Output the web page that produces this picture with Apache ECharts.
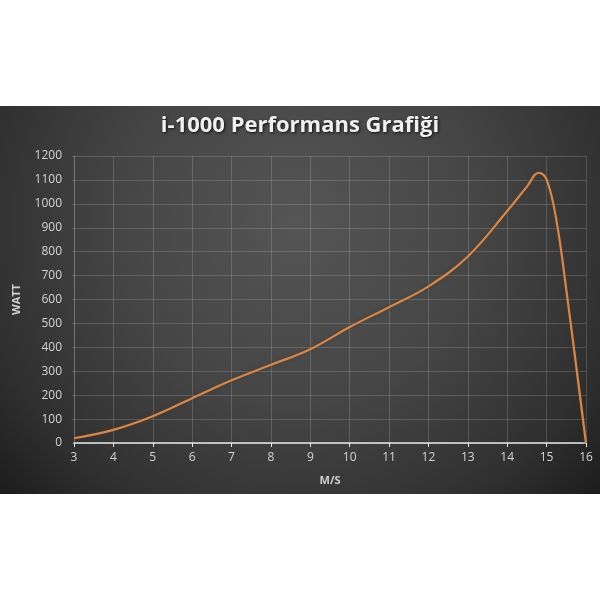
<!DOCTYPE html>
<html>
<head>
<meta charset="utf-8">
<script src="https://cdn.jsdelivr.net/npm/echarts@6/dist/echarts.min.js"></script>
<style>html,body{margin:0;padding:0;background:#fff;}#c{width:600px;height:600px;}</style>
</head>
<body>
<div id="c"></div>
<script>
var titleText = 'i-1000 Performans Grafiği';
var xName = 'M/S';
var yName = 'WATT';
var speeds = [3, 4, 5, 6, 7, 8, 9, 10, 11, 12, 13, 14, 14.5, 14.8, 15, 15.25, 15.5, 16];
var watts  = [20, 55, 112, 187, 262, 327, 392, 485, 568, 655, 780, 970, 1072, 1130, 1102, 930, 640, 0];

var chart = echarts.init(document.getElementById('c'), null, {renderer: 'canvas'});
var data = speeds.map(function (s, i) { return [s, watts[i]]; });
var gridColor = 'rgba(255,255,255,0.16)';
chart.setOption({
  backgroundColor: '#ffffff',
  graphic: [{
    type: 'rect', z: -10, silent: true,
    shape: {x: 0, y: 106, width: 600, height: 388},
    style: {
      fill: {
        type: 'radial', x: 0.5, y: 0.3, r: 1.05,
        colorStops: [
          {offset: 0, color: '#555555'},
          {offset: 0.45, color: '#454545'},
          {offset: 0.8, color: '#2f2f2f'},
          {offset: 1, color: '#1c1c1c'}
        ]
      }
    }
  }],
  title: {
    text: titleText,
    left: 'center',
    top: 110,
    textStyle: {
      fontFamily: 'Open Sans', fontWeight: 'bold', fontSize: 22,
      color: '#f0f0f0',
      textShadowColor: 'rgba(0,0,0,0.8)', textShadowBlur: 3,
      textShadowOffsetX: 1, textShadowOffsetY: 1
    }
  },
  grid: {left: 74, right: 14, top: 156, bottom: 157, containLabel: false},
  xAxis: {
    type: 'value', min: 3, max: 16, interval: 1,
    name: xName, nameLocation: 'middle', nameGap: 32,
    nameTextStyle: {fontFamily: 'Open Sans', fontWeight: 'bold', fontSize: 11, color: '#d0d0d0'},
    axisLine: {show: true, lineStyle: {color: '#e8e8e8', width: 1.5}},
    axisTick: {show: true, length: 4, lineStyle: {color: '#e8e8e8', width: 1}},
    axisLabel: {fontFamily: 'Open Sans', fontSize: 12, color: '#d4d4d4', margin: 9},
    splitLine: {show: true, lineStyle: {color: gridColor, width: 1}}
  },
  yAxis: {
    type: 'value', min: 0, max: 1200, interval: 100,
    name: yName, nameLocation: 'middle', nameGap: 52, nameRotate: 90,
    nameTextStyle: {fontFamily: 'Open Sans', fontWeight: 'bold', fontSize: 11, color: '#d0d0d0'},
    axisLine: {show: true, lineStyle: {color: gridColor, width: 1}},
    axisTick: {show: true, length: 2, lineStyle: {color: gridColor}},
    axisLabel: {fontFamily: 'Open Sans', fontSize: 12, color: '#d4d4d4', margin: 12,
      formatter: function (v) { return String(v); }},
    splitLine: {show: true, lineStyle: {color: gridColor, width: 1}}
  },
  series: [{
    type: 'line',
    data: data,
    smooth: 0.4,
    showSymbol: false,
    symbol: 'none',
    lineStyle: {
      color: '#cc8a58', width: 2.2,
      shadowColor: 'rgba(100,50,15,0.9)', shadowBlur: 3
    }
  }]
});
</script>
</body>
</html>
